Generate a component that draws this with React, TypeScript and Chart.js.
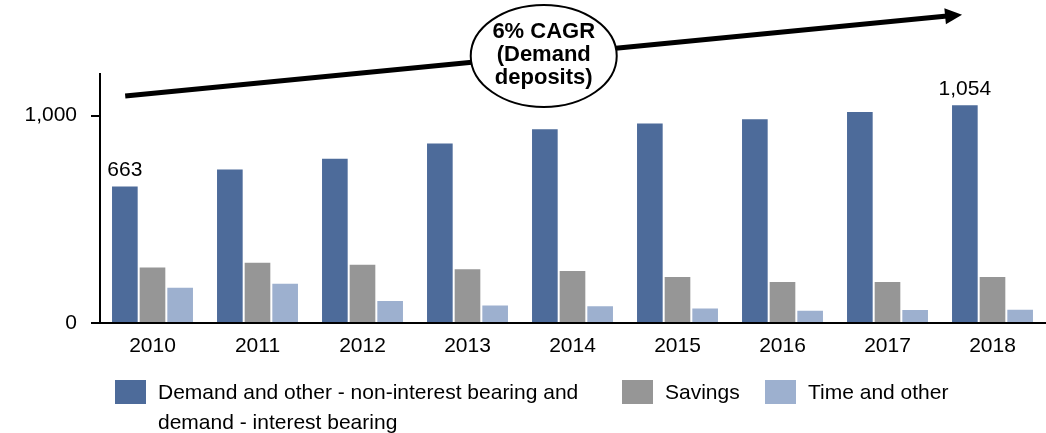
import React, { useEffect, useRef } from 'react';
import { Chart, registerables } from 'chart.js';

Chart.register(...registerables);

const categories = ['2010', '2011', '2012', '2013', '2014', '2015', '2016', '2017', '2018'];
const demandValues = [663, 745, 796, 870, 939, 966, 987, 1022, 1054];
const savingsValues = [272, 295, 285, 264, 255, 226, 203, 202, 226];
const timeValues = [175, 194, 111, 89, 85, 75, 64, 67, 69];
const seriesNames = [
  'Demand and other - non-interest bearing and demand - interest bearing',
  'Savings',
  'Time and other',
];
const seriesColors = ['#4D6B9A', '#969696', '#9DB0CF'];
const yTickValues = [0, 1000];
const yMax = 1200;
const labelledDemandIndices = [0, 8];
const cagrLines = ['6% CAGR', '(Demand', 'deposits)'];
// annotation placement in (category index, value) units
const arrowFrom = { index: -0.26, value: 1094 };
const arrowTo = { index: 7.71, value: 1486 };
const ellipseAt = { index: 3.726, value: 1287 };

const FONT = '"Liberation Sans", Arial, Helvetica, sans-serif';

const annotationPlugin = {
  id: 'cagrAnnotation',
  afterDraw(chart: any) {
    const { ctx, scales } = chart;
    const x = scales.x;
    const y = scales.y;
    const x0 = x.getPixelForValue(0);
    const catW = x.getPixelForValue(1) - x0;
    const px = (i: number) => x0 + i * catW;
    const py = (v: number) => y.getPixelForValue(v);

    ctx.save();
    // data labels
    const meta = chart.getDatasetMeta(0);
    ctx.fillStyle = '#000';
    ctx.font = `21px ${FONT}`;
    ctx.textAlign = 'center';
    ctx.textBaseline = 'alphabetic';
    labelledDemandIndices.forEach((i) => {
      const el = meta.data[i];
      ctx.fillText(demandValues[i].toLocaleString('en-US'), el.x, el.y - 9);
    });

    // arrow
    const sx = px(arrowFrom.index);
    const sy = py(arrowFrom.value);
    const ex = px(arrowTo.index);
    const ey = py(arrowTo.value);
    const ang = Math.atan2(ey - sy, ex - sx);
    const headLen = 17;
    const headHalf = 8;
    const bx = ex - headLen * Math.cos(ang);
    const by = ey - headLen * Math.sin(ang);
    ctx.strokeStyle = '#000';
    ctx.lineWidth = 5;
    ctx.lineCap = 'butt';
    ctx.beginPath();
    ctx.moveTo(sx, sy);
    ctx.lineTo(bx + 2 * Math.cos(ang), by + 2 * Math.sin(ang));
    ctx.stroke();
    ctx.fillStyle = '#000';
    ctx.beginPath();
    ctx.moveTo(ex, ey);
    ctx.lineTo(bx - headHalf * Math.sin(ang), by + headHalf * Math.cos(ang));
    ctx.lineTo(bx + headHalf * Math.sin(ang), by - headHalf * Math.cos(ang));
    ctx.closePath();
    ctx.fill();

    // ellipse
    const cx = px(ellipseAt.index);
    const cy = py(ellipseAt.value);
    ctx.beginPath();
    ctx.ellipse(cx, cy, 73, 51, 0, 0, Math.PI * 2);
    ctx.fillStyle = '#fff';
    ctx.fill();
    ctx.lineWidth = 2;
    ctx.strokeStyle = '#000';
    ctx.stroke();

    ctx.fillStyle = '#000';
    ctx.font = `bold 22px ${FONT}`;
    ctx.textAlign = 'center';
    ctx.textBaseline = 'middle';
    cagrLines.forEach((t, k) => {
      ctx.fillText(t, cx, cy + (k - 1) * 23 - 1);
    });
    ctx.restore();
  },
};

function Legend() {
  const sq = (left: number, color: string) => (
    <div
      style={{
        position: 'absolute',
        left,
        top: 380,
        width: 31,
        height: 24,
        background: color,
      }}
    />
  );
  const txt: React.CSSProperties = {
    position: 'absolute',
    top: 377,
    fontFamily: FONT,
    fontSize: 21,
    lineHeight: '30px',
    color: '#000',
    whiteSpace: 'nowrap',
  };
  const firstWords = seriesNames[0].split(' ');
  const line1 = firstWords.slice(0, 7).join(' ');
  const line2 = firstWords.slice(7).join(' ');
  return (
    <>
      {sq(115, seriesColors[0])}
      <div style={{ ...txt, left: 158 }}>
        {line1}
        <br />
        {line2}
      </div>
      {sq(622, seriesColors[1])}
      <div style={{ ...txt, left: 665 }}>{seriesNames[1]}</div>
      {sq(765, seriesColors[2])}
      <div style={{ ...txt, left: 808 }}>{seriesNames[2]}</div>
    </>
  );
}

export default function App() {
  const canvasRef = useRef<HTMLCanvasElement | null>(null);

  useEffect(() => {
    document.body.style.margin = '0';
    const canvas = canvasRef.current;
    if (!canvas) return;
    const values = [demandValues, savingsValues, timeValues];
    const chart = new Chart(canvas, {
      type: 'bar',
      data: {
        labels: categories,
        datasets: values.map((v, i) => ({
          label: seriesNames[i],
          data: v,
          backgroundColor: seriesColors[i],
          borderColor: 'rgba(255,255,255,0.6)',
          borderWidth: 1,
          categoryPercentage: 0.79,
          barPercentage: 1,
        })),
      },
      options: {
        responsive: false,
        animation: false,
        devicePixelRatio: 1,
        layout: { padding: { left: 0, right: 1, top: 74, bottom: 80 } },
        plugins: {
          legend: { display: false },
          tooltip: { enabled: false },
        },
        scales: {
          x: {
            grid: { display: false, drawOnChartArea: false, drawTicks: false },
            border: { display: true, color: '#000', width: 2 },
            ticks: {
              color: '#000',
              font: { family: FONT, size: 21 },
              padding: 11,
              maxRotation: 0,
            },
            afterFit: (s: any) => {
              s.height = 30;
            },
          },
          y: {
            min: 0,
            max: yMax,
            grid: { drawOnChartArea: false, drawTicks: true, tickLength: 9, color: '#000', lineWidth: 2 },
            border: { display: true, color: '#000', width: 2 },
            ticks: {
              color: '#000',
              font: { family: FONT, size: 21 },
              padding: 14,
              callback: (v: any) => Number(v).toLocaleString('en-US'),
            },
            afterBuildTicks: (s: any) => {
              s.ticks = yTickValues.map((v) => ({ value: v }));
            },
            afterFit: (s: any) => {
              s.width = 100;
            },
          },
        },
      },
      plugins: [annotationPlugin],
    });
    return () => chart.destroy();
  }, []);

  return (
    <div style={{ position: 'fixed', left: 0, top: 0, width: 1046, height: 433, background: '#fff' }}>
      <canvas ref={canvasRef} width={1046} height={433} style={{ width: 1046, height: 433, display: 'block' }} />
      <Legend />
    </div>
  );
}
